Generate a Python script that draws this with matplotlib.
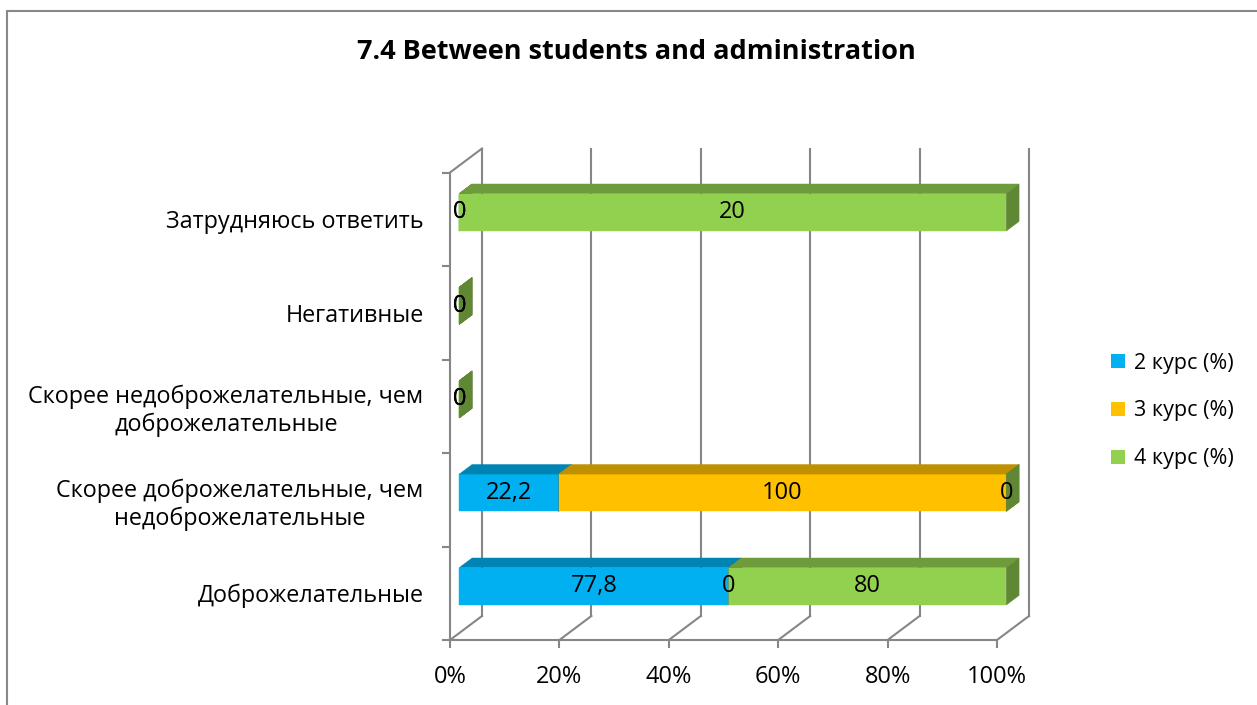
import matplotlib
matplotlib.use("Agg")
import matplotlib.pyplot as plt
import numpy as np
from matplotlib.patches import Polygon, Rectangle, Patch

categories = ["Доброжелательные",
              "Скорее доброжелательные, чем\nнедоброжелательные",
              "Скорее недоброжелательные, чем\nдоброжелательные",
              "Негативные",
              "Затрудняюсь ответить"]
series_names = ["2 курс (%)", "3 курс (%)", "4 курс (%)"]
kurs2 = [77.8, 22.2, 0, 0, 0]
kurs3 = [0, 100, 0, 0, 0]
kurs4 = [80, 0, 0, 0, 20]
value_labels = [["77,8", "22,2", "0", "0", "0"],
                ["0", "100", "0", "0", "0"],
                ["80", "0", "0", "0", "20"]]
xticks = [0, 20, 40, 60, 80, 100]
xtick_labels = ["0%", "20%", "40%", "60%", "80%", "100%"]

front_cols = ["#00B0F0", "#FFC000", "#92D050"]
grid_col = "#868686"
fs = 17

plt.rcParams['font.family'] = ['Open Sans', 'DejaVu Sans']

W, H = 1257, 705
fig = plt.figure(figsize=(W / 100, H / 100), dpi=100)

# front plane of the 3d box
ax = fig.add_axes([450 / W, 1 - 640 / H, 547 / W, 467.5 / H])
ax.set_xlim(0, 100)
ax.set_ylim(-0.5, 4.5)

# oblique depth offset, in data units
DX = 32 / 547 * 100
DY = 24 / 93.5
d0, d1 = 0.29, 0.69
bh = 0.2


def pt(x, y, d):
    return (x + d * DX, y + d * DY)


# back wall gridlines and floor diagonals
for x in xticks:
    ax.plot([pt(x, -0.5, 1)[0], pt(x, 4.5, 1)[0]],
            [pt(x, -0.5, 1)[1], pt(x, 4.5, 1)[1]],
            color=grid_col, lw=1.5, clip_on=False, zorder=1)
    ax.plot([x, pt(x, -0.5, 1)[0]], [-0.5, pt(x, -0.5, 1)[1]],
            color=grid_col, lw=1.5, clip_on=False, zorder=1)
ax.plot([0, pt(0, 4.5, 1)[0]], [4.5, pt(0, 4.5, 1)[1]],
        color=grid_col, lw=1.5, clip_on=False, zorder=1)

data = np.array([kurs2, kurs3, kurs4], dtype=float)
totals = data.sum(axis=0)
shares = np.where(totals > 0, data / np.where(totals > 0, totals, 1) * 100, 0)

for i in range(len(categories)):
    left = 0.0
    for k in range(3):
        w = shares[k, i]
        l, r = left, left + w
        base = np.array(matplotlib.colors.to_rgb(front_cols[k]))
        top_c = base * 0.75
        side_c = base * 0.65
        bot, top = i - bh, i + bh
        front = [pt(l, bot, d0), pt(r, bot, d0), pt(r, top, d0), pt(l, top, d0)]
        upper = [pt(l, top, d0), pt(r, top, d0), pt(r, top, d1), pt(l, top, d1)]
        side = [pt(r, bot, d0), pt(r, top, d0), pt(r, top, d1), pt(r, bot, d1)]
        for poly, c in [(front, base), (upper, top_c), (side, side_c)]:
            ax.add_patch(Polygon(poly, closed=True, facecolor=c, edgecolor=c,
                                 lw=0.3, clip_on=False, zorder=3))
        left = r
    left = 0.0
    for k in range(3):
        w = shares[k, i]
        cx, cy = pt(left + w / 2, i, d0)
        ax.text(cx, cy, value_labels[k][i], ha='center', va='center',
                fontsize=fs, color='black', zorder=5, clip_on=False)
        left += w

for s in ['top', 'right']:
    ax.spines[s].set_visible(False)
for s in ['left', 'bottom']:
    ax.spines[s].set_color(grid_col)
    ax.spines[s].set_linewidth(1.5)
ax.set_facecolor('none')

ax.set_xticks(xticks)
ax.set_xticklabels(xtick_labels, fontsize=fs)
ax.set_yticks([-0.5, 0.5, 1.5, 2.5, 3.5, 4.5], minor=False)
ax.set_yticklabels([])
ax.set_yticks(range(len(categories)), minor=True)
ax.set_yticklabels(categories, minor=True, fontsize=16.8, multialignment='center')
ax.tick_params(axis='x', length=6, width=1.5, color=grid_col, pad=12)
ax.tick_params(axis='y', which='major', length=6, width=1.5, color=grid_col)
ax.tick_params(axis='y', which='minor', length=0, pad=19)

fig.text(636 / W, 1 - 52 / H, "7.4 Between students and administration",
         ha='center', va='center', fontsize=19.5, fontweight='bold')

handles = [Patch(facecolor=c, edgecolor='none') for c in front_cols]
fig.legend(handles, series_names, loc='center left',
           bbox_to_anchor=(1092 / W, 1 - 411 / H), frameon=False,
           fontsize=15.5, handlelength=0.65, handleheight=0.65,
           handletextpad=0.4, labelspacing=1.25)

fig.add_artist(Rectangle((7 / W, -0.1), 1.2, 1.1 - 11 / H, transform=fig.transFigure,
                         fill=False, edgecolor='#888888', lw=1.5))

fig.savefig("out.png", dpi=100)
